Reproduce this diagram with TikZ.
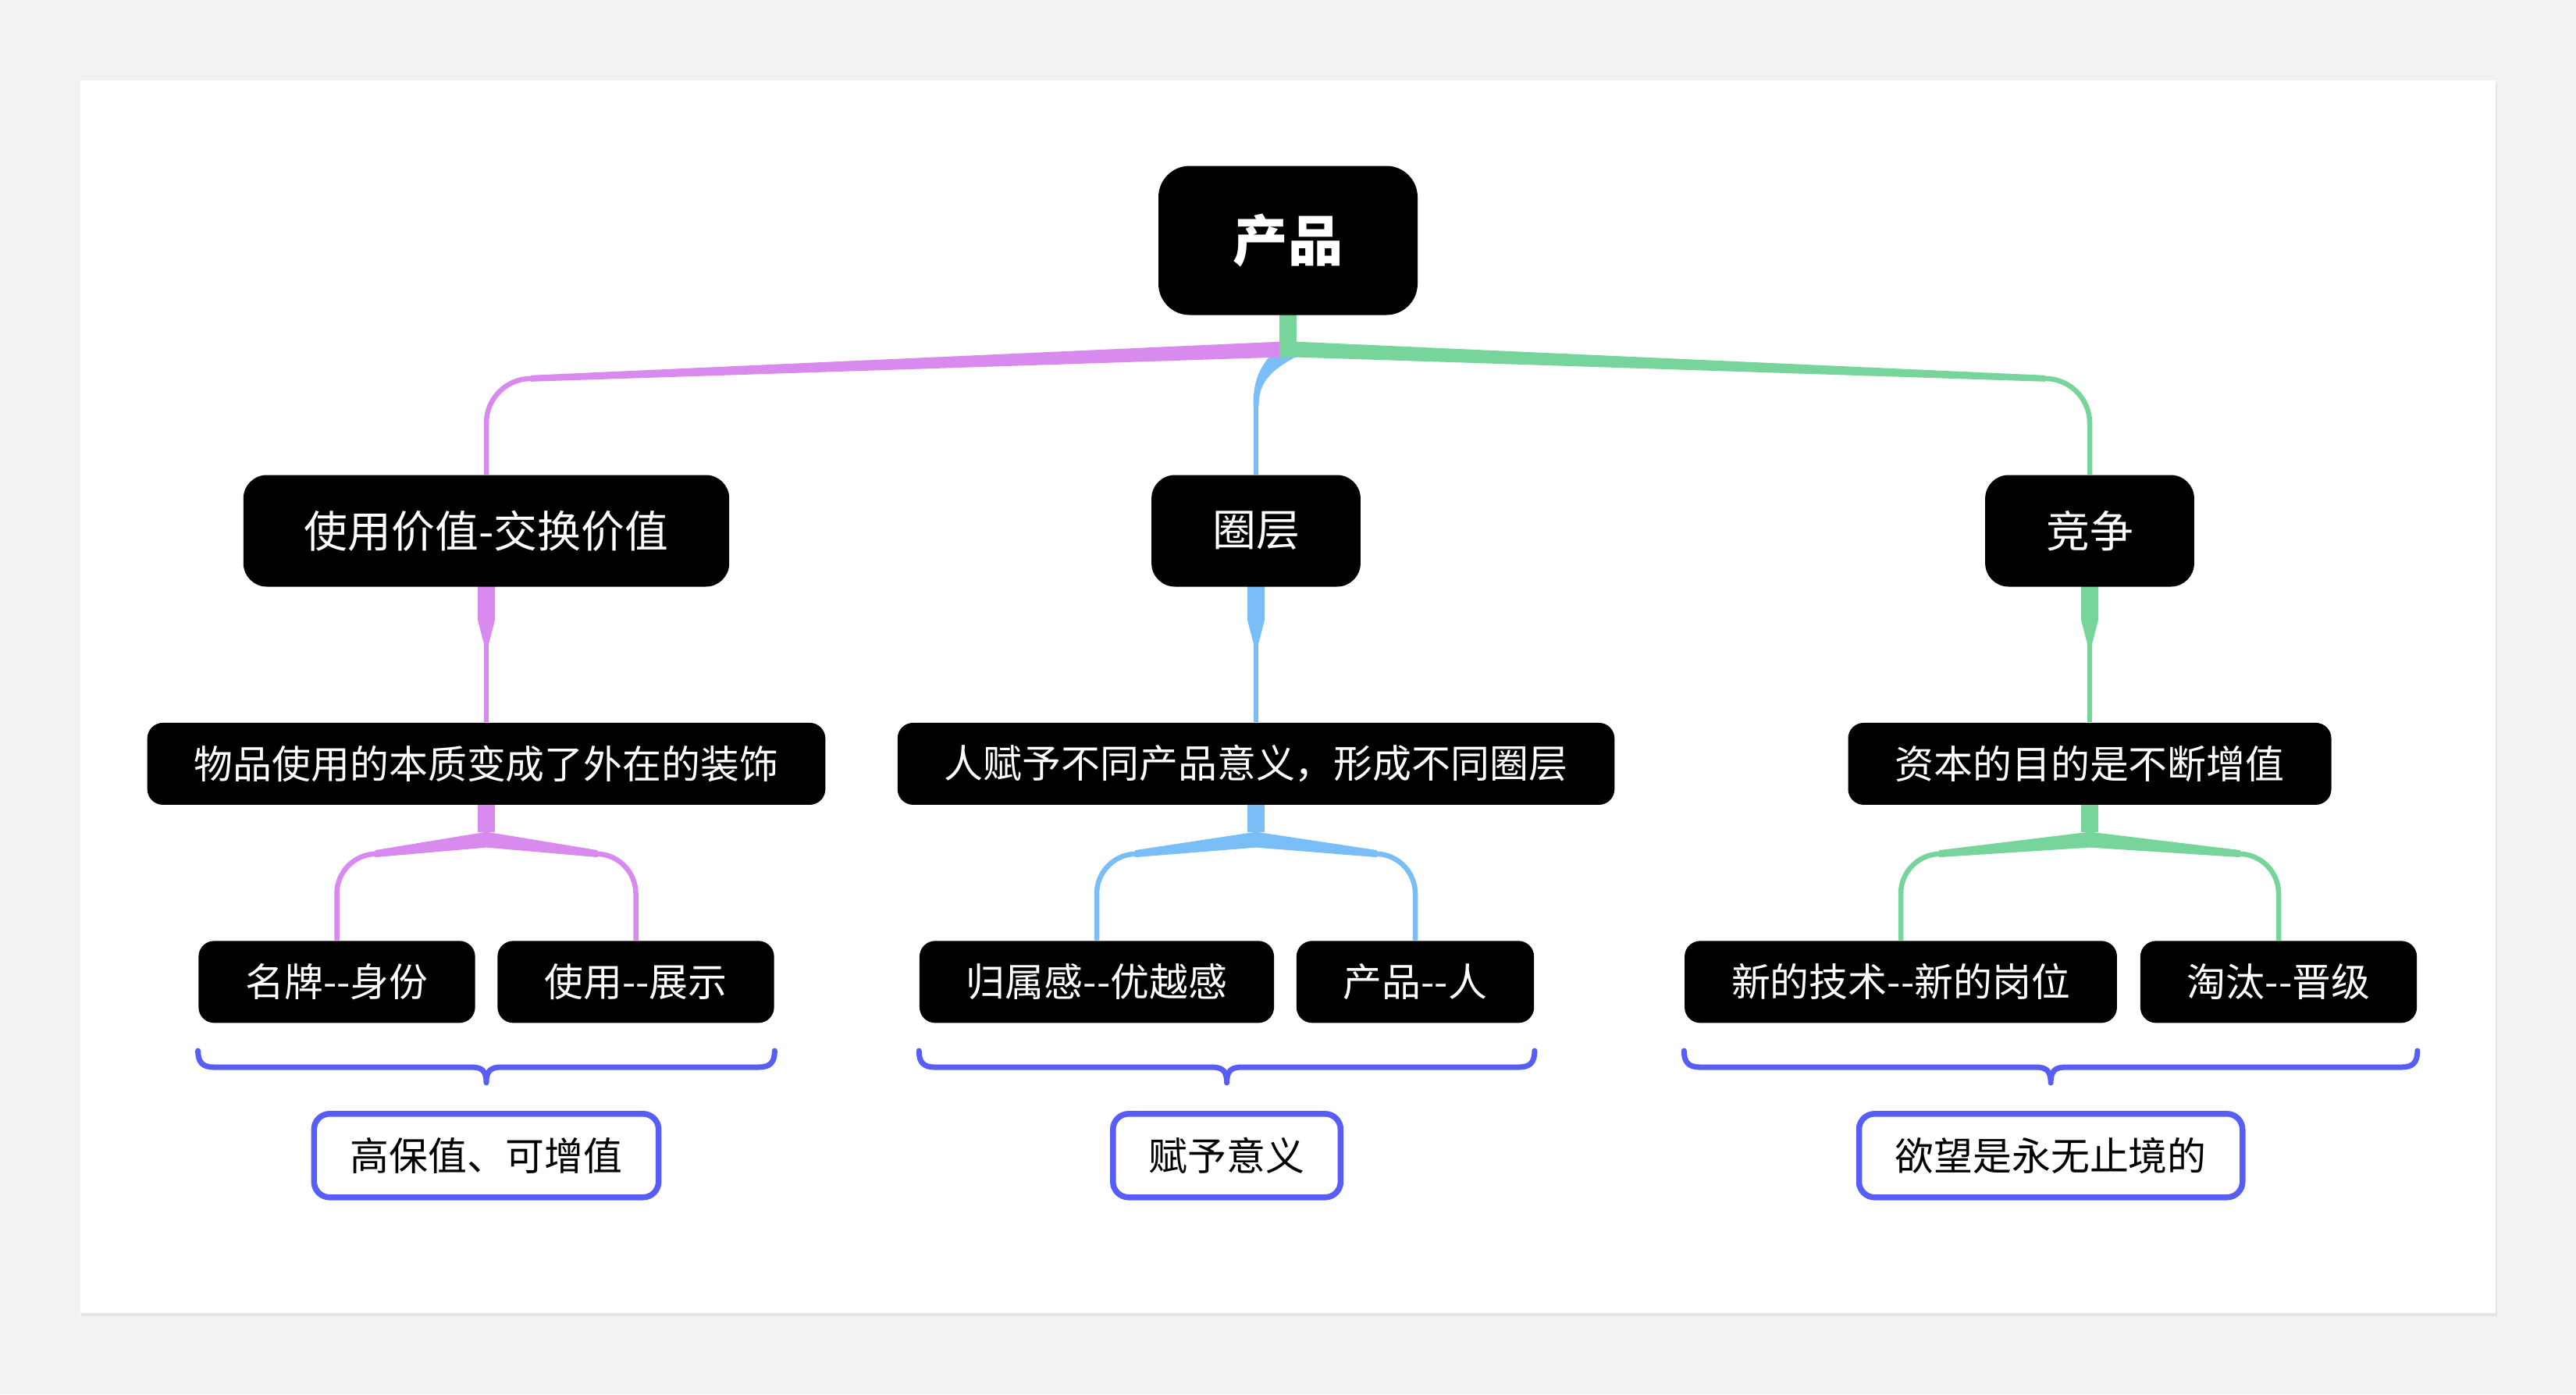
\documentclass[tikz,border=0pt]{standalone}
\usepackage{fontspec}
\setmainfont{Noto Sans CJK SC}
\usepackage{tikz}
\usetikzlibrary{positioning, calc, backgrounds}

\definecolor{bggray}{HTML}{F2F2F2}
\definecolor{cpurple}{HTML}{D98AEE}
\definecolor{cblue}{HTML}{79BEF7}
\definecolor{cgreen}{HTML}{77D49A}
\definecolor{cbrace}{HTML}{575DF5}

% thick stem that narrows, then a thin line to the child
\newcommand\stemline[3]{%
  \fill[#1] ($(#2.south)+(-0.11,0.01)$) -- ++(0,-0.43) -- ++(0.075,-0.29) -- ++(0.07,0) -- ++(0.075,0.29) -- ++(0,0.43) -- cycle;
  \draw[#1, thinline] ($(#2.south)+(0,-0.68)$) -- (#3.north);
}
% stem that splits into two children
\newcommand\forkline[4]{%
  \fill[#1] ($(#2.south)+(-0.11,0.01)$) rectangle ($(#2.south)+(0.11,-0.34)$);
  \fill[#1] ($(#3.north)+(0.49,1.155)$) -- ($(#2.south)+(0,-0.34)$) -- ($(#4.north)+(-0.49,1.155)$) -- ($(#4.north)+(-0.49,1.065)$) -- ($(#2.south)+(0,-0.54)$) -- ($(#3.north)+(0.49,1.065)$) -- cycle;
  \draw[#1, thinline, rounded corners=0.5cm] ($(#3.north)+(0.6,1.11)$) -- ($(#3.north)+(0,1.10)$) -- (#3.north);
  \draw[#1, thinline, rounded corners=0.5cm] ($(#4.north)+(-0.6,1.11)$) -- ($(#4.north)+(0,1.10)$) -- (#4.north);
}
% curly brace under two nodes, pointing at the summary
\newcommand\groupbrace[3]{%
  \draw[bracket] ($(#1.south west)+(0,-0.35)$) .. controls ($(#1.south west)+(0,-0.50)$) and ($(#1.south west)+(0.06,-0.56)$) .. ($(#1.south west)+(0.20,-0.56)$)
    -- ($(#3.north)+(-0.20,0.56)$) .. controls ($(#3.north)+(-0.06,0.56)$) and ($(#3.north)+(0,0.52)$) .. ($(#3.north)+(0,0.36)$)
    .. controls ($(#3.north)+(0,0.52)$) and ($(#3.north)+(0.06,0.56)$) .. ($(#3.north)+(0.20,0.56)$)
    -- ($(#2.south east)+(-0.20,-0.56)$) .. controls ($(#2.south east)+(-0.06,-0.56)$) and ($(#2.south east)+(0,-0.50)$) .. ($(#2.south east)+(0,-0.35)$);
}

\begin{document}
\begin{tikzpicture}[
  node distance=1.73cm,
  every node/.style={font=\fontsize{14.2pt}{17pt}\selectfont},
  box/.style={rectangle, rounded corners=0.2cm, fill=black, text=white, minimum height=1.05cm, inner xsep=0.6cm, inner ysep=0pt},
  topic/.style={box, rounded corners=0.3cm, minimum height=1.43cm, inner xsep=0.78cm, font=\fontsize{15.9pt}{19pt}\selectfont},
  rootbox/.style={box, rounded corners=0.4cm, minimum width=3.32cm, minimum height=1.91cm, inner xsep=0pt, font=\fontsize{20pt}{24pt}\selectfont\bfseries},
  sumbox/.style={rectangle, rounded corners=0.2cm, draw=cbrace, line width=0.75mm, fill=white, text=black, minimum height=1.07cm, inner xsep=0.46cm, inner ysep=0pt},
  thinline/.style={line width=0.65mm},
  bracket/.style={draw=cbrace, line width=0.7mm, line cap=round, line join=round},
]

% Page and card
\useasboundingbox (0,0) rectangle (33,-17.86);
\begin{scope}[on background layer]
  \fill[bggray] (0,0) rectangle (33,-17.86);
  \fill[black!10] (1.04,-1.06) rectangle (31.99,-16.86);
  \fill[white] (1.03,-1.03) rectangle (31.97,-16.82);
\end{scope}

% Root and topics
\node[rootbox] (root) at (16.50,-3.08) {产品};
\node[topic] (usage) at (6.23,-6.80) {使用价值-交换价值};
\node[topic] (layer) at (16.09,-6.80) {圈层};
\node[topic] (compete) at (26.77,-6.80) {竞争};

% Notes under topics
\node[box, below=of usage] (usageNote) {物品使用的本质变成了外在的装饰};
\node[box, below=of layer] (layerNote) {人赋予不同产品意义，形成不同圈层};
\node[box, below=of compete] (competeNote) {资本的目的是不断增值};

% Leaves
\node[box, below=of usageNote, xshift=-1.915cm] (brand) {名牌-{}-身份};
\node[box, below=of usageNote, xshift=1.915cm] (display) {使用-{}-展示};
\node[box, below=of layerNote, xshift=-2.04cm] (belong) {归属感-{}-优越感};
\node[box, below=of layerNote, xshift=2.04cm] (person) {产品-{}-人};
\node[box, below=of competeNote, xshift=-2.42cm] (tech) {新的技术-{}-新的岗位};
\node[box, below=of competeNote, xshift=2.42cm] (promote) {淘汰-{}-晋级};

% Summaries
\node[sumbox, anchor=north] (value) at ($(brand.south west)!0.5!(display.south east)+(0,-1.12)$) {高保值、可增值};
\node[sumbox, anchor=north] (meaning) at ($(belong.south west)!0.5!(person.south east)+(0,-1.12)$) {赋予意义};
\node[sumbox, anchor=north] (desire) at ($(tech.south west)!0.5!(promote.south east)+(0,-1.12)$) {欲望是永无止境的};

\begin{scope}[on background layer]
  % root to topics
  \fill[cblue] ($(root.south)+(-0.12,-0.41)$) .. controls ($(layer.north)+(0.03,1.40)$) and ($(layer.north)+(-0.035,1.18)$) .. ($(layer.north)+(-0.035,0.88)$)
    -- ($(layer.north)+(0.035,0.88)$) .. controls ($(layer.north)+(0.035,1.13)$) and ($(layer.north)+(0.13,1.30)$) .. ($(root.south)+(0.08,-0.54)$) -- cycle;
  \draw[cblue, thinline] ($(layer.north)+(0,0.95)$) -- (layer.north);
  \fill[cpurple] ($(root.south)+(0,-0.33)$) -- ($(usage.north)+(0.57,1.27)$) -- ($(usage.north)+(0.57,1.19)$) -- ($(root.south)+(0,-0.53)$) -- cycle;
  \draw[cpurple, thinline, rounded corners=0.55cm] ($(usage.north)+(0.75,1.235)$) -- ($(usage.north)+(0,1.21)$) -- (usage.north);
  \fill[cgreen] ($(root.south)+(0,-0.33)$) -- ($(compete.north)+(-0.57,1.27)$) -- ($(compete.north)+(-0.57,1.19)$) -- ($(root.south)+(0,-0.53)$) -- cycle;
  \draw[cgreen, thinline, rounded corners=0.55cm] ($(compete.north)+(-0.75,1.235)$) -- ($(compete.north)+(0,1.21)$) -- (compete.north);
  \fill[cgreen] ($(root.south)+(-0.11,0.01)$) rectangle ($(root.south)+(0.11,-0.54)$);

  % topics to notes
  \stemline{cpurple}{usage}{usageNote}
  \stemline{cblue}{layer}{layerNote}
  \stemline{cgreen}{compete}{competeNote}

  % notes to leaves
  \forkline{cpurple}{usageNote}{brand}{display}
  \forkline{cblue}{layerNote}{belong}{person}
  \forkline{cgreen}{competeNote}{tech}{promote}
\end{scope}

% Braces
\groupbrace{brand}{display}{value}
\groupbrace{belong}{person}{meaning}
\groupbrace{tech}{promote}{desire}

\end{tikzpicture}
\end{document}
